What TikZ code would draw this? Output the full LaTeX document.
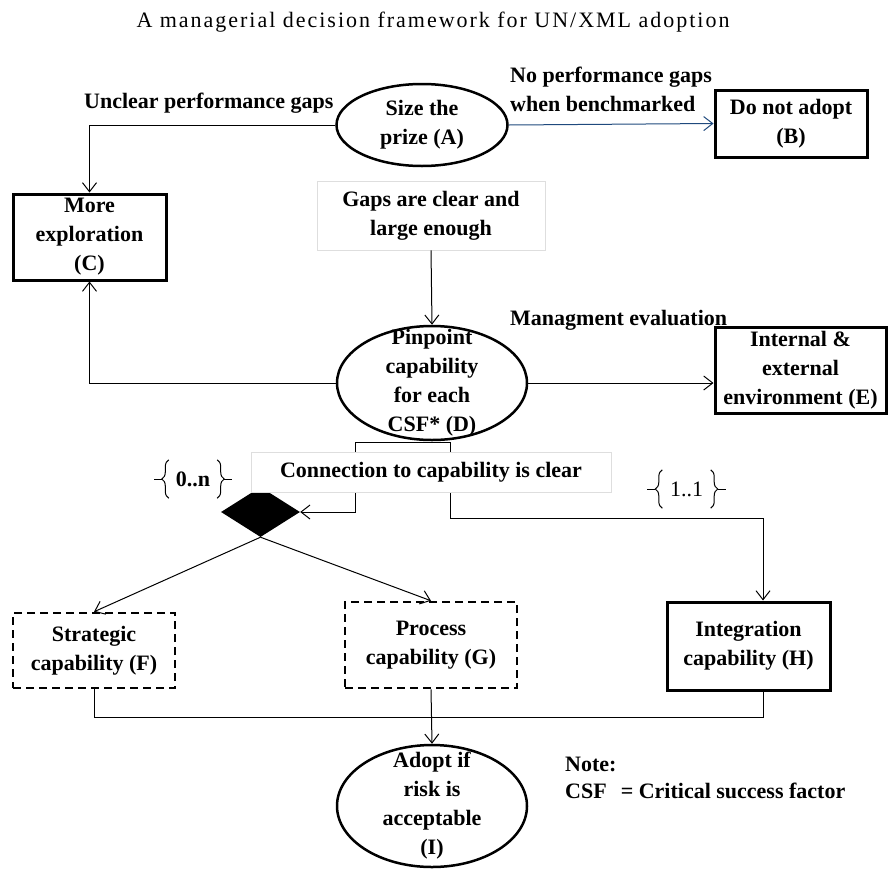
\documentclass[tikz,border=0pt]{standalone}
\usepackage{fontspec}
\setmainfont{Liberation Serif}
\usetikzlibrary{shapes.geometric,arrows.meta,decorations.pathreplacing}

\definecolor{benchblue}{RGB}{31,73,125}
\definecolor{boxgray}{RGB}{222,222,222}

\tikzset{
  txt/.style={font=\fontsize{22}{29}\selectfont\bfseries, align=center},
  lbl/.style={txt, inner sep=0pt},
  stage/.style={ellipse, draw, line width=2.5pt, txt, inner sep=-50pt},
  endbox/.style={rectangle, draw, line width=3pt, txt, inner sep=0pt},
  capbox/.style={endbox, line width=2.5pt, dash pattern=on 8pt off 5pt},
  cond/.style={rectangle, draw=boxgray, line width=0.8pt, fill=white, txt, inner sep=0pt},
  mult/.style={txt, inner sep=0pt, minimum width=48pt, minimum height=38pt},
  brc/.style={line width=1pt, decorate, decoration={brace, amplitude=7pt}},
  link/.style={line width=1pt},
  flow/.style={link, -{Straight Barb[length=9pt,width=14pt]}},
}

\begin{document}
\begin{tikzpicture}[x=1pt, y=-1pt]
  \useasboundingbox (0,0) rectangle (888,868);

  \node[font={\fontsize{22}{26}\selectfont\addfontfeature{LetterSpace=9}}] (title) at (433,22)
    {A managerial decision framework for UN/XML adoption};

  % stages
  \node[stage, minimum width=171pt, minimum height=82pt] (A) at (422,125) {Size the\\prize (A)};
  \node[endbox, minimum width=152pt, minimum height=67pt] (B) at (791,123.5) {Do not adopt\\(B)};
  \node[endbox, minimum width=153pt, minimum height=86pt] (C) at (89.5,237) {More\\exploration\\(C)};
  \node[cond, minimum width=228pt, minimum height=69pt] (gaps) at (431,215.5) {Gaps are clear and\\large enough};
  \node[stage, minimum width=190pt, minimum height=114pt] (D) at (432,383) {Pinpoint\\capability\\for each\\CSF* (D)};
  \node[endbox, minimum width=171pt, minimum height=86pt] (E) at (800.5,370) {Internal \&\\external\\environment (E)};
  \node[diamond, fill=black, minimum width=79pt, minimum height=50pt, inner sep=0pt] (dmd) at (260.5,512) {};
  \node[capbox, minimum width=162pt, minimum height=75pt] (F) at (94,650.5) {Strategic\\capability (F)};
  \node[capbox, minimum width=172pt, minimum height=86pt] (G) at (431,645) {Process\\capability (G)};
  \node[endbox, minimum width=163pt, minimum height=88pt] (H) at (748.5,646) {Integration\\capability (H)};
  \node[stage, minimum width=190pt, minimum height=122pt] (I) at (432,806) {Adopt if\\risk is\\acceptable\\(I)};

  % labels
  \node[lbl, anchor=west] (unclear) at (84,103) {Unclear performance gaps};
  \node[lbl, anchor=west, align=left] (nogap) at (510,89) {No performance gaps\\when benchmarked};
  \node[lbl, anchor=west] (mgmt) at (510,320) {Managment evaluation};
  \node[lbl, anchor=north west, align=left, font=\fontsize{22}{27}\selectfont\bfseries] (note) at (565,757)
    {Note:\\CSF\hspace{14pt}= Critical success factor};

  % multiplicities
  \node[mult] (many) at (193,479) {0..n};
  \draw[brc] (many.south west) -- (many.north west);
  \draw[brc] (many.north east) -- (many.south east);
  \draw[link] ([xshift=-7pt]many.west) -- ++(-8,0);
  \draw[link] ([xshift=7pt]many.east) -- ++(8,0);
  \node[mult, font=\fontsize{22}{29}\selectfont] (one) at (686.5,489) {1..1};
  \draw[brc] (one.south west) -- (one.north west);
  \draw[brc] (one.north east) -- (one.south east);
  \draw[link] ([xshift=-7pt]one.west) -- ++(-8,0);
  \draw[link] ([xshift=7pt]one.east) -- ++(8,0);

  % connectors
  \draw[flow] (A.west) -| (C.north);
  \draw[flow, benchblue] (A.east) -- (B.west);
  \draw[flow] (gaps.south) -- (D.north);
  \draw[flow] (D.west) -| (C.south);
  \draw[flow] (D.east) -- (D.east -| E.west);

  \coordinate (dl) at (355,442);
  \coordinate (dr) at (450,442);
  \coordinate (hin) at (763,518);
  \draw[link] (dl) -- (dr);
  \draw[flow] (dl) |- (dmd.east);
  \draw[flow] (dr) |- (hin) -- (hin |- H.north);
  \draw[flow] (dmd.south) -- (F.north);
  \draw[flow] (dmd.south) -- (G.north);

  \coordinate (bus) at (763,717);
  \draw[link] (F.south) |- (bus) -- (bus |- H.south);
  \draw[flow] (G.south) -- (I.north);

  \node[cond, minimum width=360pt, minimum height=40pt] (conn) at (431,472) {Connection to capability is clear};
\end{tikzpicture}
\end{document}
